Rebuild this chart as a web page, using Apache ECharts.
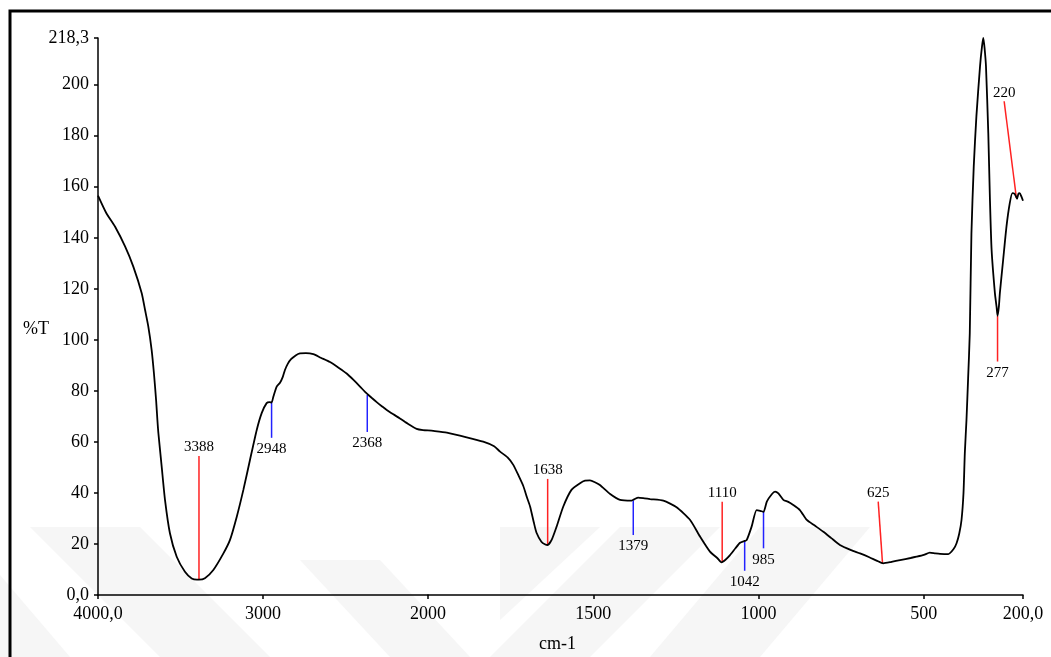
<!DOCTYPE html>
<html>
<head>
<meta charset="utf-8">
<title>FTIR %T</title>
<script src="https://cdn.jsdelivr.net/npm/echarts@6/dist/echarts.min.js"></script>
<style>
  html, body { margin: 0; padding: 0; background: #ffffff; }
  #chart { width: 1051px; height: 657px; }
</style>
</head>
<body>
<div id="chart"></div>
<script>
// Spectrum: wavenumber (cm-1) and transmittance (%T)
const wavenumbers = [
  4000, 3950, 3897, 3836, 3786, 3735, 3715, 3695, 3675, 3661, 3648, 3640, 3634, 3614, 3594, 3564,
  3523, 3473, 3432, 3400, 3388, 3352, 3301, 3240, 3200, 3159, 3119, 3079, 3038, 3008, 2978, 2960,
  2948, 2937, 2917, 2897, 2880, 2867, 2850, 2830, 2800, 2776, 2740, 2695, 2650, 2594, 2540, 2493,
  2450, 2412, 2380, 2361, 2340, 2311, 2280, 2250, 2210, 2170, 2120, 2069, 2030, 2000,
  1984, 1943, 1883, 1833, 1800, 1782, 1760, 1742, 1725, 1712, 1700, 1691, 1680, 1672, 1657, 1645,
  1638, 1626, 1611, 1591, 1566, 1540, 1525, 1510, 1495, 1480, 1449, 1419, 1384, 1375, 1364, 1345,
  1328, 1288, 1248, 1207, 1177, 1147, 1125, 1112, 1100, 1087, 1070, 1056, 1042, 1036, 1021, 1006,
  995, 985, 975, 960, 950, 940, 925, 910, 895, 875, 854, 830, 804, 780, 754, 720,
  693, 665, 643, 623, 600, 572, 540, 522, 500, 482, 465, 451, 426, 410, 401, 393,
  386, 380, 376, 371, 366, 361, 356, 349, 341, 330, 324, 320, 316, 312, 305, 300,
  295, 285, 280, 277, 273, 270, 260, 250, 240, 232, 226, 222, 218, 214, 210, 205, 200
];
const transmittance = [
  156.5, 149.7, 144.4, 136.6, 128.7, 118.3, 111.8, 105.2, 96.1, 86.9, 76.5, 68.6, 63.4, 50.3, 37.3, 24.2,
  15.0, 9.1, 6.5, 6.0, 6.0, 6.6, 9.8, 16.3, 21.6, 30.7, 41.2, 52.9, 64.7, 71.3, 75.2, 75.6,
  75.4, 77.8, 81.7, 83.2, 85.5, 88.2, 90.6, 92.4, 94.0, 94.7, 94.8, 94.4, 93.0, 91.3, 89.0, 86.8,
  84.2, 81.7, 79.5, 78.4, 77.2, 75.6, 74.0, 72.5, 70.8, 69.2, 67.0, 65.1, 64.6, 64.5,
  64.3, 63.6, 61.8, 60.1, 58.3, 56.2, 54.0, 51.0, 46.5, 42.8, 38.0, 34.6, 28.5, 24.5, 20.9, 19.8,
  19.6, 21.6, 26.8, 34.6, 41.2, 43.8, 44.8, 44.9, 44.2, 43.1, 39.6, 37.3, 37.0, 37.6, 38.2, 37.9,
  37.6, 37.0, 34.4, 29.4, 22.9, 17.0, 14.5, 12.8, 13.8, 15.5, 18.3, 20.5, 21.2, 21.5, 26.8, 33.3,
  33.0, 32.6, 36.6, 39.5, 40.5, 39.8, 37.3, 36.5, 35.3, 33.3, 29.4, 27.2, 24.8, 22.3, 19.6, 17.6,
  16.3, 14.8, 13.5, 12.4, 12.9, 13.7, 14.5, 15.0, 15.7, 16.6, 16.3, 16.1, 16.0, 18.0, 20.3, 24.0,
  29.4, 40.0, 55.6, 68.6, 85.0, 102.6, 141.8, 168.0, 187.6, 207.2, 215.0, 218.3, 214.0, 207.2, 181.0, 154.9,
  135.3, 118.3, 113.0, 109.4, 113.0, 118.3, 131.4, 144.4, 153.6, 157.5, 157.3, 156.4, 155.3, 157.2, 157.5, 156.2, 154.5
];

// Peak annotations: label, colour, point on the curve, far end of the marker
const peakLabels = ['3388', '2948', '2368', '1638', '1379', '1110', '1042', '985', '625', '277', '220'];
const peakColors = ['#f22', '#22f', '#22f', '#f22', '#22f', '#f22', '#22f', '#22f', '#f22', '#f22', '#f22'];
const peakTipWave = [3388, 2948, 2368, 1638, 1379, 1110, 1042, 985, 625, 277, 220];
const peakTipT    = [6.3, 75.4, 78.4, 19.8, 37.1, 12.8, 21.2, 32.8, 12.4, 109.4, 155.6];
const peakEndWave = [3388, 2948, 2368, 1638, 1379, 1110, 1042, 985, 638, 277, 257];
const peakEndT    = [54.5, 61.6, 63.9, 45.5, 23.5, 36.5, 9.5, 18.3, 36.6, 91.5, 193.5];

// Axis ticks (the scale doubles below 2000 cm-1)
const yTicks = [0, 20, 40, 60, 80, 100, 120, 140, 160, 180, 200, 218.3];
const xTicksHigh = [4000, 3000, 2000];
const xTicksLow = [1500, 1000, 500, 200];
const yMin = 0, yMax = 218.3;
const xStart = 4000, xEnd = 200;

const FONT = '"Liberation Serif", "DejaVu Serif", serif';

// axis end values carry one decimal with a comma
const commaFixed = v => v.toFixed(1).replace('.', ',');
const fmtX = v => (v === xStart || v === xEnd) ? commaFixed(v) : String(v);
const fmtY = v => (v === yMin || v === yMax) ? commaFixed(v) : String(v);

const highPts = [], lowPts = [];
wavenumbers.forEach((w, i) => {
  if (w >= 2000) highPts.push([w, transmittance[i]]);
  if (w <= 2000) lowPts.push([w, transmittance[i]]);
});

const peaksHigh = [], peaksLow = [];
peakLabels.forEach((lab, i) => {
  const row = [peakTipWave[i], peakTipT[i], peakEndWave[i], peakEndT[i], i];
  (peakTipWave[i] >= 2000 ? peaksHigh : peaksLow).push(row);
});

function renderPeak(params, api) {
  const i = api.value(4);
  const tip = api.coord([api.value(0), api.value(1)]);
  const end = api.coord([api.value(2), api.value(3)]);
  const above = end[1] < tip[1];
  return {
    type: 'group',
    children: [
      {
        type: 'line',
        shape: { x1: tip[0], y1: tip[1], x2: end[0], y2: end[1] },
        style: { stroke: peakColors[i], lineWidth: 1.5 }
      },
      {
        type: 'text',
        x: end[0],
        y: above ? end[1] - 1 : end[1] + 4,
        style: {
          text: peakLabels[i],
          fill: '#000',
          font: '15px ' + FONT,
          align: 'center',
          verticalAlign: above ? 'bottom' : 'top'
        }
      }
    ]
  };
}

const axisLine = { show: true, lineStyle: { color: '#000', width: 1.5 } };
const axisTick = { show: true, inside: false, length: 4, lineStyle: { color: '#000', width: 1.5 } };
const labelStyle = { color: '#000', fontFamily: FONT, fontSize: 18 };

// Faint diagonal watermark bands in the lower part of the page
const bands = [
  [[30, 527], [140, 527], [270, 657], [160, 657]],
  [[0, 575], [0, 657], [70, 657]],
  [[300, 560], [380, 560], [470, 657], [390, 657]],
  [[500, 527], [600, 527], [500, 620]],
  [[620, 527], [720, 527], [590, 657], [490, 657]],
  [[760, 527], [870, 527], [760, 657], [650, 657]]
];

const chart = echarts.init(document.getElementById('chart'), null, { renderer: 'canvas' });
chart.setOption({
  backgroundColor: '#ffffff',
  animation: false,
  graphic: [
    ...bands.map(p => ({
      type: 'polygon', z: -10, silent: true,
      shape: { points: p },
      style: { fill: '#f6f6f6' }
    })),
    {
      type: 'rect', z: 100, silent: true,
      shape: { x: 10, y: 11, width: 1100, height: 700 },
      style: { fill: 'none', stroke: '#000', lineWidth: 3 }
    },
    {
      type: 'text', left: 23, top: 320, z: 100,
      style: { text: '%T', font: '18px ' + FONT, fill: '#000' }
    },
    {
      type: 'text', left: 539, top: 635, z: 100,
      style: { text: 'cm-1', font: '18px ' + FONT, fill: '#000' }
    }
  ],
  grid: [
    { left: 98, top: 38, width: 330, height: 557 },
    { left: 428, top: 38, width: 595, height: 557 }
  ],
  xAxis: [
    {
      type: 'value', gridIndex: 0, min: 2000, max: xStart, inverse: true,
      axisLine, splitLine: { show: false },
      axisTick: { ...axisTick, customValues: xTicksHigh },
      axisLabel: { ...labelStyle, margin: 10, customValues: xTicksHigh, formatter: fmtX }
    },
    {
      type: 'value', gridIndex: 1, min: xEnd, max: 2000, inverse: true,
      axisLine, splitLine: { show: false },
      axisTick: { ...axisTick, customValues: xTicksLow },
      axisLabel: { ...labelStyle, margin: 10, customValues: xTicksLow, formatter: fmtX }
    }
  ],
  yAxis: [
    {
      type: 'value', gridIndex: 0, min: yMin, max: yMax,
      axisLine, splitLine: { show: false },
      axisTick: { ...axisTick, customValues: yTicks },
      axisLabel: { ...labelStyle, margin: 9, customValues: yTicks, formatter: fmtY }
    },
    {
      type: 'value', gridIndex: 1, min: yMin, max: yMax, show: false,
      splitLine: { show: false }
    }
  ],
  series: [
    {
      type: 'line', xAxisIndex: 0, yAxisIndex: 0, data: highPts,
      showSymbol: false, smooth: 0.2, lineStyle: { color: '#000', width: 1.8 }, z: 5
    },
    {
      type: 'line', xAxisIndex: 1, yAxisIndex: 1, data: lowPts,
      showSymbol: false, smooth: 0.2, lineStyle: { color: '#000', width: 1.8 }, z: 5
    },
    {
      type: 'custom', xAxisIndex: 0, yAxisIndex: 0, data: peaksHigh,
      renderItem: renderPeak, encode: { x: [0, 2], y: [1, 3] }, z: 4
    },
    {
      type: 'custom', xAxisIndex: 1, yAxisIndex: 1, data: peaksLow,
      renderItem: renderPeak, encode: { x: [0, 2], y: [1, 3] }, z: 4
    }
  ]
});
</script>
</body>
</html>
